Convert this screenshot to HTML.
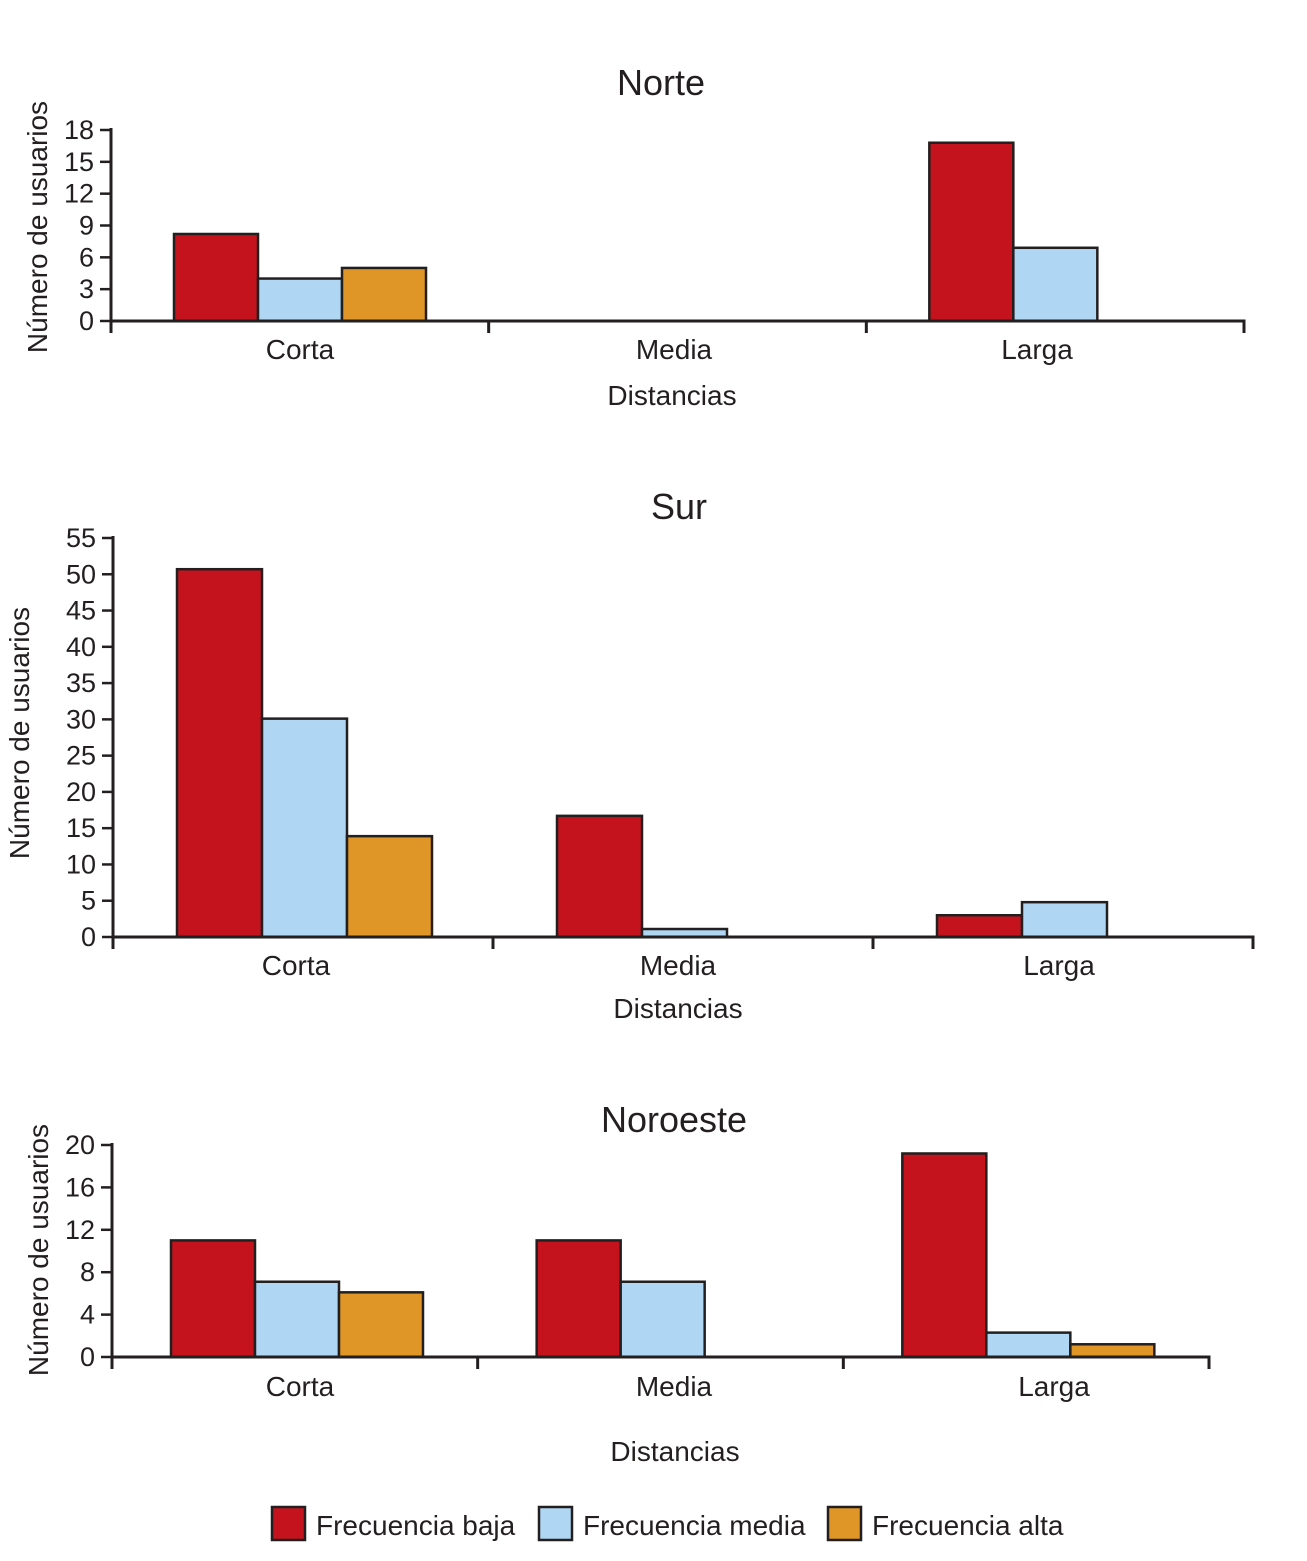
<!DOCTYPE html>
<html><head><meta charset="utf-8"><style>
html,body{margin:0;padding:0;background:#fff;}
svg{display:block;font-family:"Liberation Sans",Arial,sans-serif;}
</style></head><body>
<svg id="chart" width="1307" height="1561" viewBox="0 0 1307 1561" xmlns="http://www.w3.org/2000/svg"></svg>
<script>
const categories = ["Corta","Media","Larga"];
const seriesNames = ["Frecuencia baja","Frecuencia media","Frecuencia alta"];
const colors = ["#c4131d","#afd6f2","#df9627"];
const norteBaja = [8.2, 0, 16.8];
const norteMedia = [4.0, 0, 6.9];
const norteAlta = [5.0, 0, 0];
const norteTicks = [0,3,6,9,12,15,18];
const surBaja = [50.7, 16.7, 3.0];
const surMedia = [30.1, 1.1, 4.8];
const surAlta = [13.9, 0, 0];
const surTicks = [0,5,10,15,20,25,30,35,40,45,50,55];
const noroesteBaja = [11.0, 11.0, 19.2];
const noroesteMedia = [7.1, 7.1, 2.3];
const noroesteAlta = [6.1, 0, 1.2];
const noroesteTicks = [0,4,8,12,16,20];

const svg = document.getElementById('chart');
const NS = "http://www.w3.org/2000/svg";
function mk(tag, attrs, parent){
  const e = document.createElementNS(NS, tag);
  for (const k in attrs) e.setAttribute(k, attrs[k]);
  (parent||svg).appendChild(e);
  return e;
}
const INK = "#231f20";

function panel(name, title, L, series, ticks){
  const g = mk('g', {});
  
  
  const {x0,x1,y0,y1,bw,off} = L;
  const ymax = ticks[ticks.length-1];
  const yScale = v => y0 - (v/ymax)*(y0-y1);
  const band = (x1-x0)/categories.length;
  const xScale = (ci, si) => x0 + ci*band + off + si*bw;
  const t = mk('text', {x:L.titleX, y:L.titleY, 'text-anchor':'middle', 'font-size':36, fill:INK}, g);
  t.textContent = title;
  
  
  series.forEach((vals, si) => {
    vals.forEach((v, ci) => {
      if (v <= 0) return;
      const r = mk('rect', {x:xScale(ci,si), y:yScale(v), width:bw, height:y0-yScale(v), fill:colors[si], stroke:INK, 'stroke-width':2.5}, g);
      
      
    });
  });
  const ya = mk('line', {x1:x0, y1:y1-2, x2:x0, y2:y0+12, stroke:INK, 'stroke-width':3}, g);
  
  
  ticks.forEach(tv => {
    const y = yScale(tv);
    mk('line', {x1:x0-11, y1:y, x2:x0, y2:y, stroke:INK, 'stroke-width':2.5}, g);
    const tl = mk('text', {x:x0-17, y:y+9, 'text-anchor':'end', 'font-size':27, fill:INK}, g);
    tl.textContent = tv;
    
    
  });
  const xa = mk('line', {x1:x0, y1:y0, x2:x1+1.5, y2:y0, stroke:INK, 'stroke-width':3}, g);
  
  
  for (let i=1;i<=categories.length;i++){
    mk('line', {x1:x0+i*band, y1:y0, x2:x0+i*band, y2:y0+12, stroke:INK, 'stroke-width':3}, g);
  }
  categories.forEach((c, ci) => {
    const cl = mk('text', {x:L.labelX[ci], y:L.catY, 'text-anchor':'middle', 'font-size':28, fill:INK}, g);
    cl.textContent = c;
    
    
  });
  const xt = mk('text', {x:L.xtitleX, y:L.xtitleY, 'text-anchor':'middle', 'font-size':28, fill:INK}, g);
  xt.textContent = 'Distancias';
  
  
  const yc = L.ytitleY;
  const yt = mk('text', {x:L.ytitleX, y:yc, 'text-anchor':'middle', 'font-size':28, fill:INK, transform:`rotate(-90 ${L.ytitleX} ${yc})`}, g);
  yt.textContent = 'Número de usuarios';
  
  
}

panel('norte', 'Norte', {x0:111,x1:1244,y0:321,y1:130,bw:84,off:63,titleX:661,titleY:95,labelX:[300,674,1037],catY:359,xtitleX:672,xtitleY:405,ytitleX:47,ytitleY:227}, [norteBaja, norteMedia, norteAlta], norteTicks);
panel('sur', 'Sur', {x0:113,x1:1253,y0:937,y1:538,bw:85,off:64,titleX:679,titleY:519,labelX:[296,678,1059],catY:975,xtitleX:678,xtitleY:1018,ytitleX:29,ytitleY:733}, [surBaja, surMedia, surAlta], surTicks);
panel('noroeste', 'Noroeste', {x0:112,x1:1209,y0:1357,y1:1145,bw:84,off:59,titleX:674,titleY:1132,labelX:[300,674,1054],catY:1396,xtitleX:675,xtitleY:1461,ytitleX:48,ytitleY:1250}, [noroesteBaja, noroesteMedia, noroesteAlta], noroesteTicks);

const lg = mk('g', {});


const legendX = [272, 539, 828];
seriesNames.forEach((s, i) => {
  const r = mk('rect', {x:legendX[i], y:1507, width:33, height:33, fill:colors[i], stroke:INK, 'stroke-width':2.5}, lg);
  
  
  const t = mk('text', {x:legendX[i]+44, y:1535, 'font-size':28, fill:INK}, lg);
  t.textContent = s;
  
  
});
</script>
</body></html>
